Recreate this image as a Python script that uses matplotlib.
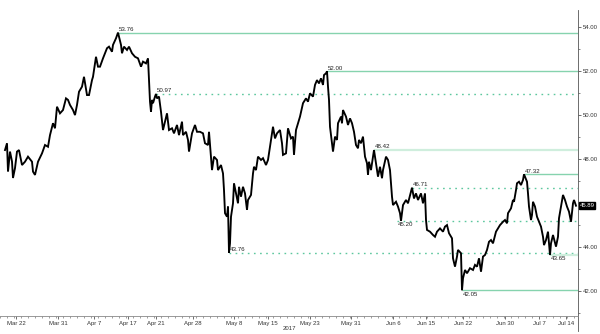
import matplotlib
matplotlib.use("Agg")
import matplotlib.pyplot as plt
from matplotlib.ticker import FixedLocator, MultipleLocator

# ---- data (hourly bar index, price) ----
bar = [5, 7, 8, 10, 12, 13, 15, 17, 19, 22, 25, 28, 32, 33, 35, 38, 42, 45, 48, 50,
       53, 55, 57, 60, 63, 66, 68, 70, 73, 75, 77, 79, 82, 84, 87, 89, 92, 93, 96, 98,
       100, 103, 107, 109, 112, 113, 116, 118, 121, 122, 124, 127, 129, 132, 135, 138, 141, 143, 146, 148,
       149, 150, 151, 152, 153, 155, 156, 157, 159, 161, 163, 165, 167, 169, 172, 174, 177, 179, 182, 183,
       186, 188, 189, 192, 195, 197, 200, 203, 205, 208, 209, 211, 212, 214, 217, 218, 221, 223, 224, 225,
       227, 228, 229, 230, 231, 233, 234, 236, 238, 239, 241, 243, 245, 247, 248, 251, 253, 254, 256, 258,
       261, 263, 266, 268, 270, 273, 275, 277, 280, 282, 283, 286, 288, 291, 293, 294, 296, 298, 300, 303,
       306, 308, 310, 313, 315, 317, 319, 321, 323, 324, 326, 327, 328, 329, 330, 332, 333, 335, 337, 338,
       341, 342, 343, 346, 348, 350, 352, 354, 356, 358, 359, 361, 363, 365, 367, 368, 369, 371, 373, 374,
       377, 378, 380, 382, 383, 386, 388, 390, 392, 393, 396, 398, 400, 401, 403, 406, 408, 412, 414, 416,
       418, 421, 423, 425, 426, 427, 430, 433, 435, 437, 440, 443, 445, 447, 449, 452, 453, 455, 457, 458,
       461, 462, 463, 465, 467, 470, 473, 475, 477, 479, 481, 483, 485, 487, 489, 491, 493, 496, 498, 500,
       503, 505, 507, 508, 511, 513, 514, 516, 517, 519, 521, 523, 524, 527, 528, 529, 531, 532, 533, 535,
       537, 539, 541, 543, 544, 546, 548, 550, 551, 553, 556, 558, 559, 561, 563, 565, 567, 569, 571, 573,
       574, 576]
price = [48.42, 48.73, 47.44, 48.35, 47.90, 47.15, 47.60, 48.35, 48.42, 47.74, 47.89, 48.12, 47.89, 47.44, 47.29, 47.89, 48.27, 48.65, 48.57, 49.10,
         49.64, 49.41, 50.39, 50.09, 50.24, 50.77, 50.70, 50.47, 50.24, 50.01, 50.47, 51.07, 51.30, 51.75, 50.92, 50.92, 51.60, 51.75, 52.66, 52.21,
         52.21, 52.59, 53.05, 53.12, 52.89, 53.20, 53.50, 53.76, 53.20, 52.82, 53.12, 52.97, 53.12, 52.82, 52.66, 52.59, 52.21, 52.44, 52.36, 52.59,
         51.60, 50.62, 50.16, 50.70, 50.55, 50.85, 50.97, 50.77, 50.85, 50.16, 49.33, 49.71, 50.09, 49.33, 49.41, 49.18, 49.56, 49.10, 49.71, 49.10,
         49.25, 48.88, 48.35, 49.18, 49.56, 49.25, 49.25, 49.18, 48.73, 48.65, 49.25, 48.12, 47.51, 48.12, 47.97, 47.51, 47.74, 47.36, 46.60, 45.55,
         45.39, 45.85, 43.76, 44.18, 45.39, 46.00, 46.91, 46.45, 46.00, 46.75, 46.30, 46.75, 46.45, 45.70, 46.15, 46.38, 47.36, 47.66, 47.51, 48.12,
         47.97, 48.05, 47.74, 47.97, 48.57, 49.48, 48.95, 49.18, 49.33, 48.73, 48.20, 48.27, 49.41, 48.95, 49.03, 48.20, 49.33, 49.64, 49.94, 50.55,
         50.77, 50.62, 51.00, 50.85, 51.38, 51.60, 51.45, 51.68, 51.38, 51.83, 51.91, 52.00, 51.30, 50.70, 49.48, 48.73, 48.35, 49.03, 48.88, 49.64,
         49.94, 49.64, 50.24, 49.94, 49.56, 49.86, 49.64, 49.25, 48.65, 48.50, 48.88, 48.73, 49.03, 48.12, 47.82, 47.29, 47.89, 47.51, 48.12, 48.42,
         47.51, 47.21, 47.66, 47.14, 47.51, 48.12, 47.97, 47.51, 46.30, 45.92, 46.07, 45.85, 45.55, 45.20, 45.92, 46.15, 46.00, 46.71, 46.22, 46.45,
         46.15, 46.45, 46.00, 46.45, 45.24, 44.79, 44.71, 44.56, 44.48, 44.71, 44.86, 44.71, 44.94, 45.01, 44.64, 44.41, 43.50, 43.12, 43.58, 43.88,
         43.73, 42.05, 42.59, 42.97, 42.82, 43.05, 42.97, 43.20, 43.12, 43.50, 42.89, 43.58, 43.65, 43.88, 44.25, 44.33, 44.18, 44.71, 44.86, 45.01,
         45.16, 45.24, 45.09, 45.55, 45.77, 46.15, 46.07, 46.60, 46.91, 46.98, 46.83, 47.06, 47.32, 46.98, 46.45, 45.85, 45.24, 45.47, 46.07, 45.85,
         45.39, 45.16, 44.94, 44.48, 44.10, 44.33, 44.71, 43.65, 44.18, 44.56, 44.03, 44.48, 45.32, 45.85, 46.38, 46.15, 45.85, 45.62, 45.16, 46.00,
         46.15, 45.89]

# key levels: value, bar where it starts, label side, line style
level_value = [53.76, 52.00, 50.97, 48.42, 47.32, 46.71, 45.20, 43.76, 43.65, 42.05]
level_start = [118, 327, 156, 374, 524, 412, 397, 229, 550, 462]
level_label_pos = ["above", "above", "above", "above", "above", "above", "below", "above", "below", "below"]
level_kind = ["solid", "solid", "dotted", "light", "solid", "dotted", "dotted", "dotted", "light", "solid"]

tick_bars = [16, 58, 94, 128, 156, 193, 234, 268, 310, 351, 393, 426, 463, 505, 539, 566]
tick_labels = ["Mar 22", "Mar 31", "Apr 7", "Apr 17", "Apr 21", "Apr 28", "May 8", "May 15",
               "May 23", "May 31", "Jun 6", "Jun 15", "Jun 22", "Jun 30", "Jul 7", "Jul 14"]
y_ticks = [42, 44, 46, 48, 50, 52, 54]
last_price = 45.89
year_label = "2017"

# ---- figure ----
plt.rcParams['font.family'] = ['Liberation Sans', 'DejaVu Sans']
fig = plt.figure(figsize=(6.0, 3.34), dpi=100)
ax = fig.add_axes([0.0, 1 - 315.7 / 334, 578 / 600, (315.7 - 10) / 334])

x_max = 578
ax.set_xlim(0, x_max)
ax.set_ylim(54 - (315.7 - 27.3) / 22, 54 + (27.3 - 10) / 22)

ax.plot(bar, price, color="black", lw=1.35, solid_joinstyle="miter", zorder=3)

styles = {
    "solid": dict(color="#86d3ae", lw=1.0, ls="-"),
    "light": dict(color="#cfeedd", lw=1.6, ls="-"),
    "dotted": dict(color="#5cc79e", lw=1.0, ls=(0, (1.2, 3.2))),
}
for v, s, pos, k in zip(level_value, level_start, level_label_pos, level_kind):
    ax.hlines(v, s, x_max, zorder=2, **styles[k])
    off = 0.14 if pos == "above" else -0.18
    ax.text(s + 1, v + off, f"{v:.2f}", fontsize=4.4, color="#222222",
            ha="left", va="center", zorder=4)

ax.yaxis.tick_right()
ax.yaxis.set_major_locator(FixedLocator(y_ticks))
ax.yaxis.set_minor_locator(MultipleLocator(1))
# the 46.00 label sits under the last-price box in the reference
ax.set_yticklabels(["" if abs(t - last_price) < 0.5 else f"{t:.2f}" for t in y_ticks])
ax.tick_params(axis="y", which="major", direction="out", length=2.5, width=0.5,
               pad=1, labelsize=4.3, colors="#333333")
ax.tick_params(axis="y", which="minor", direction="out", length=1.5, width=0.5, colors="#555555")

ax.xaxis.set_major_locator(FixedLocator(tick_bars))
ax.set_xticklabels(tick_labels)
ax.xaxis.set_minor_locator(MultipleLocator(7))
ax.tick_params(axis="x", which="major", direction="out", length=2, width=0.5,
               pad=1.5, labelsize=4.3, colors="#333333")
ax.tick_params(axis="x", which="minor", direction="out", length=1.5, width=0.5, colors="#777777")
ax.set_xlabel(year_label, fontsize=4.3, color="#333333", labelpad=0.5)

for side in ["left", "top"]:
    ax.spines[side].set_visible(False)
ax.spines["right"].set_color("#555555")
ax.spines["right"].set_linewidth(0.6)
ax.spines["bottom"].set_color("#888888")
ax.spines["bottom"].set_linewidth(0.6)
ax.plot([1, 1], [-0.05, 0], transform=ax.transAxes, color="#555555", lw=0.6, clip_on=False)

ax.text(x_max + 1.5, last_price, f"{last_price:.2f}", fontsize=4.3, color="white",
        ha="left", va="center", clip_on=False, zorder=5,
        bbox=dict(boxstyle="square,pad=0.15", fc="black", ec="black"))

fig.savefig("out.png", dpi=100)
